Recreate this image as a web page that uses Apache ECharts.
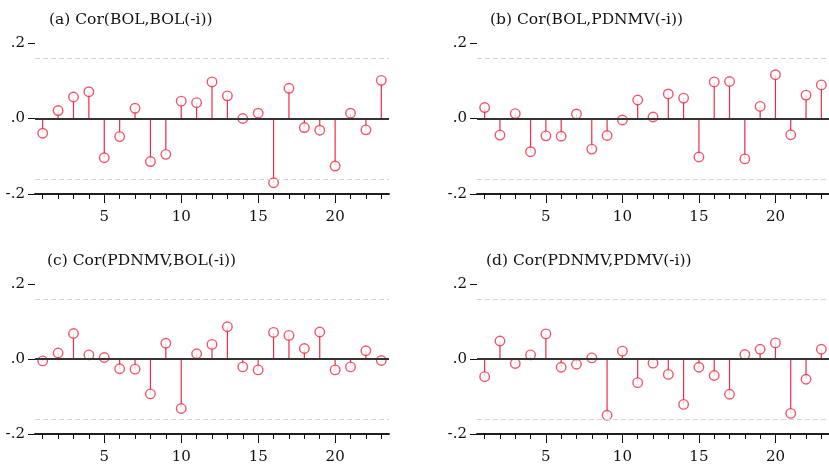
<!DOCTYPE html>
<html>
<head>
<meta charset="utf-8">
<script src="https://cdn.jsdelivr.net/npm/echarts@6/dist/echarts.min.js"></script>
<style>
  html, body { margin: 0; padding: 0; background: #fff; }
  #chart { width: 829px; height: 465px; }
</style>
</head>
<body>
<div id="chart"></div>
<script>
// lags on the x axis
const lags = ['1','2','3','4','5','6','7','8','9','10','11','12','13','14','15','16','17','18','19','20','21','22','23'];
const xLabelLags = [5, 10, 15, 20];

// cross-correlations
const corBolBol = [-0.039, 0.021, 0.057, 0.071, -0.104, -0.048, 0.027, -0.114, -0.095, 0.046, 0.042, 0.097,
  0.060, 0.000, 0.014, -0.170, 0.080, -0.024, -0.031, -0.126, 0.014, -0.030, 0.101];
const corBolPdnmv = [0.029, -0.044, 0.013, -0.088, -0.046, -0.047, 0.012, -0.081, -0.045, -0.004, 0.049, 0.004,
  0.065, 0.054, -0.102, 0.097, 0.098, -0.107, 0.032, 0.116, -0.043, 0.062, 0.089];
const corPdnmvBol = [-0.005, 0.016, 0.068, 0.011, 0.004, -0.026, -0.027, -0.093, 0.042, -0.132, 0.014, 0.039,
  0.086, -0.021, -0.029, 0.071, 0.063, 0.028, 0.072, -0.029, -0.021, 0.022, -0.004];
const corPdnmvPdmv = [-0.047, 0.048, -0.012, 0.011, 0.067, -0.022, -0.014, 0.003, -0.150, 0.021, -0.063, -0.011,
  -0.041, -0.121, -0.022, -0.044, -0.094, 0.012, 0.026, 0.043, -0.145, -0.054, 0.026];

const panelTitles = ['(a) Cor(BOL,BOL(-i))', '(b) Cor(BOL,PDNMV(-i))', '(c) Cor(PDNMV,BOL(-i))', '(d) Cor(PDNMV,PDMV(-i))'];
const yTicks = [-0.2, 0, 0.2];
const yTickLabels = ['-.2', '.0', '.2'];
const bandLevel = 0.157;

const allSeries = [corBolBol, corBolPdnmv, corPdnmvBol, corPdnmvPdmv];

const red = '#ec2d45';
const font = 'DejaVu Serif';
const boxes = [
  {left: 35, top: 43, title: [44, 7]},
  {left: 477, top: 43, title: [485, 7]},
  {left: 35, top: 284, title: [42, 248]},
  {left: 477, top: 284, title: [481, 248]}
];

const chart = echarts.init(document.getElementById('chart'));

const option = {
  animation: false,
  backgroundColor: '#fff',
  title: [],
  grid: [],
  xAxis: [],
  yAxis: [],
  series: []
};

const isMajor = function (i) { return xLabelLags.indexOf(Number(lags[i])) >= 0; };

boxes.forEach(function (b, k) {
  option.title.push({
    text: panelTitles[k], left: b.title[0], top: b.title[1],
    textStyle: {fontFamily: font, fontSize: 15.5, fontWeight: 'normal', color: '#111'}
  });
  option.grid.push({left: b.left, top: b.top, width: 354, height: 151});
  // minor ticks + axis line
  option.xAxis.push({
    type: 'category', gridIndex: k, data: lags, boundaryGap: true, position: 'bottom',
    axisLine: {show: true, onZero: false, lineStyle: {color: '#111', width: 1.5}},
    axisTick: {show: true, alignWithLabel: true, interval: 0, length: 5, lineStyle: {color: '#111', width: 1}},
    axisLabel: {show: false}
  });
  option.yAxis.push({
    type: 'value', gridIndex: k, min: -0.2, max: 0.2, interval: 0.2,
    axisLine: {show: false},
    axisTick: {show: true, length: 7, lineStyle: {color: '#111'}},
    splitLine: {show: false},
    axisLabel: {
      margin: 10, fontFamily: font, fontSize: 15, color: '#111',
      formatter: function (v) {
        const i = yTicks.findIndex(function (t) { return Math.abs(t - v) < 1e-9; });
        return i >= 0 ? yTickLabels[i] : '';
      }
    }
  });
  option.series.push({
    type: 'bar', xAxisIndex: k, yAxisIndex: k, data: allSeries[k], barWidth: 1.2,
    itemStyle: {color: red}, z: 2, silent: true,
    markLine: {
      silent: true, symbol: ['none', 'none'], label: {show: false},
      data: [
        {yAxis: bandLevel, lineStyle: {color: '#d4d4d4', type: [5, 3], width: 1}},
        {yAxis: -bandLevel, lineStyle: {color: '#d4d4d4', type: [5, 3], width: 1}},
        {yAxis: 0, lineStyle: {color: '#333', type: 'solid', width: 1.8}}
      ]
    }
  });
  option.series.push({
    type: 'scatter', xAxisIndex: k, yAxisIndex: k, data: allSeries[k],
    symbol: 'circle', symbolSize: 9.5, z: 3, silent: true,
    itemStyle: {color: '#fff', borderColor: red, borderWidth: 1.4}
  });
});

// second x axis per panel: longer ticks and labels at 5, 10, 15, 20
boxes.forEach(function (b, k) {
  option.xAxis.push({
    type: 'category', gridIndex: k, data: lags, boundaryGap: true, position: 'bottom',
    axisLine: {show: true, onZero: false, lineStyle: {color: '#111', width: 1.5}},
    axisTick: {show: true, alignWithLabel: true, interval: isMajor, length: 9, lineStyle: {color: '#111', width: 1}},
    axisLabel: {interval: isMajor, margin: 16, fontFamily: font, fontSize: 15, color: '#111'}
  });
});

chart.setOption(option);
</script>
</body>
</html>
